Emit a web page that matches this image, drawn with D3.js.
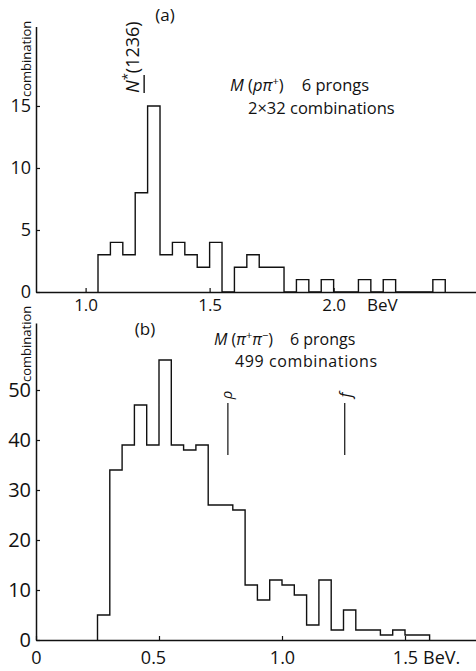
<!DOCTYPE html>
<html><head><meta charset="utf-8">
<script src="https://cdn.jsdelivr.net/npm/d3@7"></script>
<style>
body{margin:0;background:#fff}
svg{display:block}
text{font-family:"Open Sans",sans-serif;fill:#111}
</style>
</head><body>
<svg id="c" width="476" height="671"></svg>
<script>
// ---------- data ----------
const binWidth = 0.05;
// (a) M(p pi+) histogram, bin lower edges (BeV) and counts
const topBinStarts = [1.05,1.10,1.15,1.20,1.25,1.30,1.35,1.40,1.45,1.50,1.55,1.60,1.65,1.70,1.75,1.80,1.85,1.90,1.95,2.00,2.05,2.10,2.15,2.20,2.25,2.30,2.35,2.40];
const topCounts    = [3,4,3,8,15,3,4,3,2,4,0,2,3,2,2,0,1,0,1,0,0,1,0,1,0,0,0,1];
// (b) M(pi+ pi-) histogram
const bottomBinStarts = [0.25,0.30,0.35,0.40,0.45,0.50,0.55,0.60,0.65,0.70,0.75,0.80,0.85,0.90,0.95,1.00,1.05,1.10,1.15,1.20,1.25,1.30,1.35,1.40,1.45,1.50,1.55];
const bottomCounts    = [5,34,39,47,39,56,39,38,39,27,27,26,11,8,12,11,9,3,12,2,6,2,2,1,2,1,1];
// ticks
const topXTicks = [1.0, 1.5, 2.0];
const topYTicks = [0, 5, 10, 15];
const bottomXTicks = [0, 0.5, 1.0, 1.5];
const bottomYTicks = [0, 10, 20, 30, 40, 50];
// resonance markers
const topMarkers = [{name:"N", mass:1.236}];
const bottomMarkers = [{name:"ρ", mass:0.78}, {name:"f", mass:1.255}];

// ---------- drawing ----------
const svg = d3.select("#c");
const ink = "#111";

const xA = d3.scaleLinear().domain([0.8, 2.574]).range([36, 476]);
const yA = d3.scaleLinear().domain([0, 21.4]).range([292, 26.6]);
const xB = d3.scaleLinear().domain([0, 1.7886]).range([36, 476]);
const yB = d3.scaleLinear().domain([0, 63.4]).range([640, 323]);

function stepPath(starts, counts, x, y) {
  const pts = [[x(starts[0]), y(0)]];
  starts.forEach((s, i) => {
    pts.push([x(s), y(counts[i])]);
    pts.push([x(s + binWidth), y(counts[i])]);
  });
  pts.push([x(starts[starts.length - 1] + binWidth), y(0)]);
  return d3.line()(pts);
}

function styleAxis(g, fs) {
  g.select(".domain").attr("stroke", ink).attr("stroke-width", 1.5);
  g.selectAll(".tick line").attr("stroke", ink).attr("stroke-width", 1.2);
  g.selectAll(".tick text").attr("font-size", fs).attr("fill", ink)
    .style("font-family", "'Open Sans',sans-serif");
}

// ---- panel (a) ----
const gAy = svg.append("g").attr("transform", "translate(36,0)")
  .call(d3.axisLeft(yA).tickValues(topYTicks).tickSizeInner(-4).tickSizeOuter(0).tickPadding(5));
styleAxis(gAy, 18);
const gAx = svg.append("g").attr("transform", "translate(0,292)")
  .call(d3.axisBottom(xA).tickValues(topXTicks).tickFormat(d3.format(".1f")).tickSizeInner(-4).tickSizeOuter(0).tickPadding(7));
styleAxis(gAx, 17);

svg.append("path").attr("d", stepPath(topBinStarts, topCounts, xA, yA))
  .attr("fill", "none").attr("stroke", ink).attr("stroke-width", 1.4);

svg.append("text").attr("x", 367).attr("y", 311).attr("font-size", 17).text("BeV");
svg.append("text").attr("x", 165).attr("y", 21).attr("font-size", 17).attr("text-anchor", "middle").text("(a)");
svg.append("text").attr("transform", "translate(31,97) rotate(-90)").attr("font-size", 13).text("combination");

// N*(1236) marker
topMarkers.forEach(m => {
  const t = svg.append("text").attr("transform", `translate(${xA(m.mass) - 5},93) rotate(-90)`).attr("font-size", 18);
  t.append("tspan").attr("font-style", "italic").text(m.name);
  t.append("tspan").attr("font-size", 13).attr("dy", -7).text("*");
  t.append("tspan").attr("dy", 7).text("(1236)");
  svg.append("line").attr("x1", xA(m.mass)).attr("x2", xA(m.mass))
    .attr("y1", yA(17.5)).attr("y2", yA(16.05)).attr("stroke", ink).attr("stroke-width", 1.4);
});

const tA1 = svg.append("text").attr("x", 230).attr("y", 91).attr("font-size", 16.5);
tA1.append("tspan").attr("font-style", "italic").text("M");
tA1.append("tspan").text(" (");
tA1.append("tspan").attr("font-style", "italic").text("pπ");
tA1.append("tspan").attr("font-size", 11).attr("dy", -6).text("+");
tA1.append("tspan").attr("dy", 6).text(")");
tA1.append("tspan").attr("dx", 18).text("6 prongs");
svg.append("text").attr("x", 248).attr("y", 114).attr("font-size", 16.5).text("2×32 combinations");

// ---- panel (b) ----
const gBy = svg.append("g").attr("transform", "translate(36,0)")
  .call(d3.axisLeft(yB).tickValues(bottomYTicks).tickSizeInner(-4).tickSizeOuter(0).tickPadding(5));
styleAxis(gBy, 20);
const gBx = svg.append("g").attr("transform", "translate(0,640)")
  .call(d3.axisBottom(xB).tickValues(bottomXTicks).tickFormat(d => d === 0 ? "0" : d3.format(".1f")(d))
    .tickSizeInner(-4).tickSizeOuter(0).tickPadding(11));
styleAxis(gBx, 18);
gBx.selectAll(".tick text").attr("dx", d => d === 0.5 ? -6 : 0);

svg.append("path").attr("d", stepPath(bottomBinStarts, bottomCounts, xB, yB))
  .attr("fill", "none").attr("stroke", ink).attr("stroke-width", 1.4);

svg.append("text").attr("x", 423).attr("y", 664).attr("font-size", 18).text("BeV.");
svg.append("text").attr("x", 145).attr("y", 335).attr("font-size", 17).attr("text-anchor", "middle").text("(b)");
svg.append("text").attr("transform", "translate(31,382) rotate(-90)").attr("font-size", 13).text("combination");

bottomMarkers.forEach(m => {
  const xm = xB(m.mass);
  svg.append("line").attr("x1", xm).attr("x2", xm).attr("y1", yB(47.4)).attr("y2", yB(37))
    .attr("stroke", ink).attr("stroke-width", 1.2);
  svg.append("text").attr("transform", `translate(${xm + (m.name === "f" ? 6 : 4)},395) rotate(-90)`)
    .attr("text-anchor", "middle").attr("font-size", m.name === "f" ? 16 : 15)
    .attr("font-style", "italic").text(m.name);
});

const tB1 = svg.append("text").attr("x", 214).attr("y", 344.5).attr("font-size", 16);
tB1.append("tspan").attr("font-style", "italic").text("M");
tB1.append("tspan").text(" (");
tB1.append("tspan").attr("font-style", "italic").text("π");
tB1.append("tspan").attr("font-size", 11).attr("dy", -6).text("+");
tB1.append("tspan").attr("font-style", "italic").attr("dy", 6).text("π");
tB1.append("tspan").attr("font-size", 11).attr("dy", -6).text("−");
tB1.append("tspan").attr("dy", 6).text(")");
tB1.append("tspan").attr("dx", 17).text("6 prongs");
svg.append("text").attr("x", 235).attr("y", 367).attr("font-size", 16).attr("letter-spacing", 0.6).text("499 combinations");
</script>
</body></html>
